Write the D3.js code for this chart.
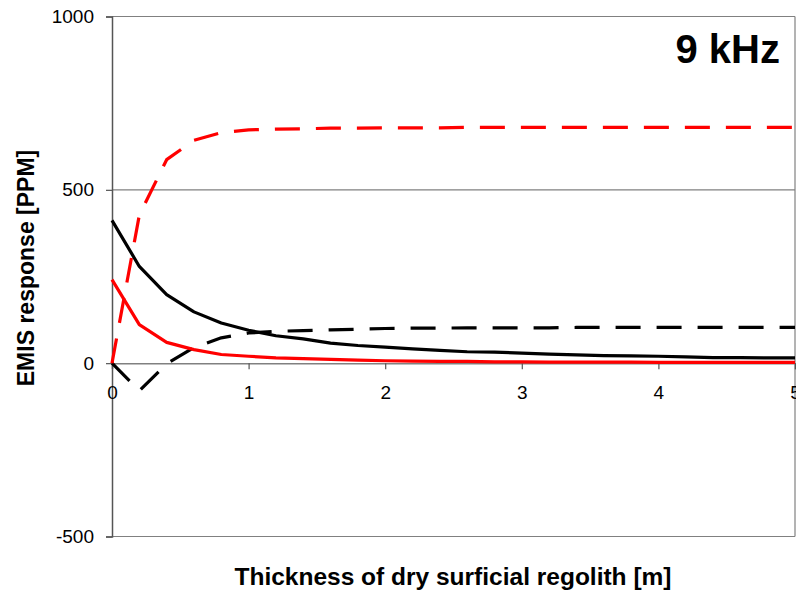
<!DOCTYPE html>
<html>
<head>
<meta charset="utf-8">
<script src="https://cdn.jsdelivr.net/npm/d3@7"></script>
<style>
  body { margin: 0; background: #fff; }
  text { font-family: "Liberation Sans", Arial, sans-serif; }
  .axis text { font-size: 19px; fill: #000; }
</style>
</head>
<body>
<div id="chart"></div>
<script>
const w = 796;
const h = 591;
const margin = { top: 16.5, right: 1, bottom: 54.5, left: 112 };

const thickness = [0, 0.2, 0.4, 0.6, 0.8, 1.0, 1.2, 1.4, 1.6, 1.8, 2.0, 2.2, 2.4, 2.6, 2.8, 3.0, 3.2, 3.4, 3.6, 3.8, 4.0, 4.2, 4.4, 4.6, 4.8, 5.0];
const redDashed = [0, 427, 587, 643, 665, 673, 675, 676, 678, 678, 679, 679, 679, 680, 680, 680, 680, 680, 680, 680, 680, 680, 680, 680, 680, 680];
const redSolid = [241, 111, 60, 39, 25, 20, 15, 13, 11, 9, 7, 6, 5, 5, 4, 4, 3, 3, 3, 3, 2, 2, 2, 2, 2, 2];
const blackSolid = [412, 279, 198, 148, 116, 95, 79, 70, 58, 51, 46, 41, 37, 33, 32, 29, 26, 24, 22, 21, 20, 18, 16, 16, 15, 15];
const blackDashed = [0, -80, -2, 45, 73, 87, 92, 94, 96, 98, 100, 101, 101, 102, 102, 102, 102, 103, 103, 103, 103, 103, 103, 103, 103, 103];
const xTicks = [0, 1, 2, 3, 4, 5];
const yTicks = [-500, 0, 500, 1000];

const series = [
  { values: blackDashed, color: "#000", dash: "25,16" },
  { values: redDashed, color: "#ff0000", dash: "25,16" },
  { values: blackSolid, color: "#000", dash: null },
  { values: redSolid, color: "#ff0000", dash: null },
];

const svg = d3.select("#chart").append("svg").attr("width", w).attr("height", h);

const x = d3.scaleLinear().domain([0, 5]).range([margin.left, w - margin.right]);
const y = d3.scaleLinear().domain([-500, 1000]).range([h - margin.bottom, margin.top]);

// grid lines + frame
svg.append("g")
  .selectAll("line")
  .data([500, 1000, -500])
  .enter()
  .append("line")
  .attr("x1", margin.left)
  .attr("x2", x(5))
  .attr("y1", (d) => y(d))
  .attr("y2", (d) => y(d))
  .attr("stroke", "#808080")
  .attr("stroke-width", 1.2);

svg.append("line")
  .attr("x1", x(5)).attr("x2", x(5))
  .attr("y1", y(1000)).attr("y2", y(-500))
  .attr("stroke", "#808080")
  .attr("stroke-width", 1.2);

const fmt = (d) => String(d);

// y axis
const yAxis = svg.append("g")
  .attr("class", "axis")
  .attr("transform", `translate(${margin.left},0)`)
  .call(d3.axisLeft(y).tickValues(yTicks).tickSize(6).tickPadding(12).tickFormat(fmt));
yAxis.attr("font-size", 19);
yAxis.select(".domain").attr("stroke", "#555").attr("stroke-width", 1.5);
yAxis.selectAll(".tick line").attr("stroke", "#555").attr("stroke-width", 1.2);

// x axis at zero
const xAxis = svg.append("g")
  .attr("class", "axis")
  .attr("transform", `translate(0,${y(0)})`)
  .call(d3.axisBottom(x).tickValues(xTicks).tickSize(6).tickPadding(16).tickFormat(fmt));
xAxis.attr("font-size", 19);
xAxis.select(".domain").attr("stroke", "#808080").attr("stroke-width", 1.5);
xAxis.selectAll(".tick line").attr("stroke", "#555").attr("stroke-width", 1.2);

// lines
const line = d3.line()
  .x((d, i) => x(thickness[i]))
  .y((d) => y(d));

svg.append("g")
  .selectAll("path")
  .data(series)
  .enter()
  .append("path")
  .attr("d", (d) => line(d.values))
  .attr("fill", "none")
  .attr("stroke", (d) => d.color)
  .attr("stroke-width", 3.2)
  .attr("stroke-dasharray", (d) => d.dash)
  .attr("stroke-linejoin", "round");

// titles
svg.append("text")
  .attr("x", 780)
  .attr("y", 63)
  .attr("text-anchor", "end")
  .style("font-size", "40px")
  .style("font-weight", "bold")
  .text("9 kHz");

svg.append("text")
  .attr("transform", `translate(34,268) rotate(-90)`)
  .attr("text-anchor", "middle")
  .style("font-size", "23px")
  .style("font-weight", "bold")
  .text("EMIS response [PPM]");

svg.append("text")
  .attr("x", 453)
  .attr("y", 585)
  .attr("text-anchor", "middle")
  .style("font-size", "24.5px")
  .style("font-weight", "bold")
  .text("Thickness of dry surficial regolith [m]");
</script>
</body>
</html>
